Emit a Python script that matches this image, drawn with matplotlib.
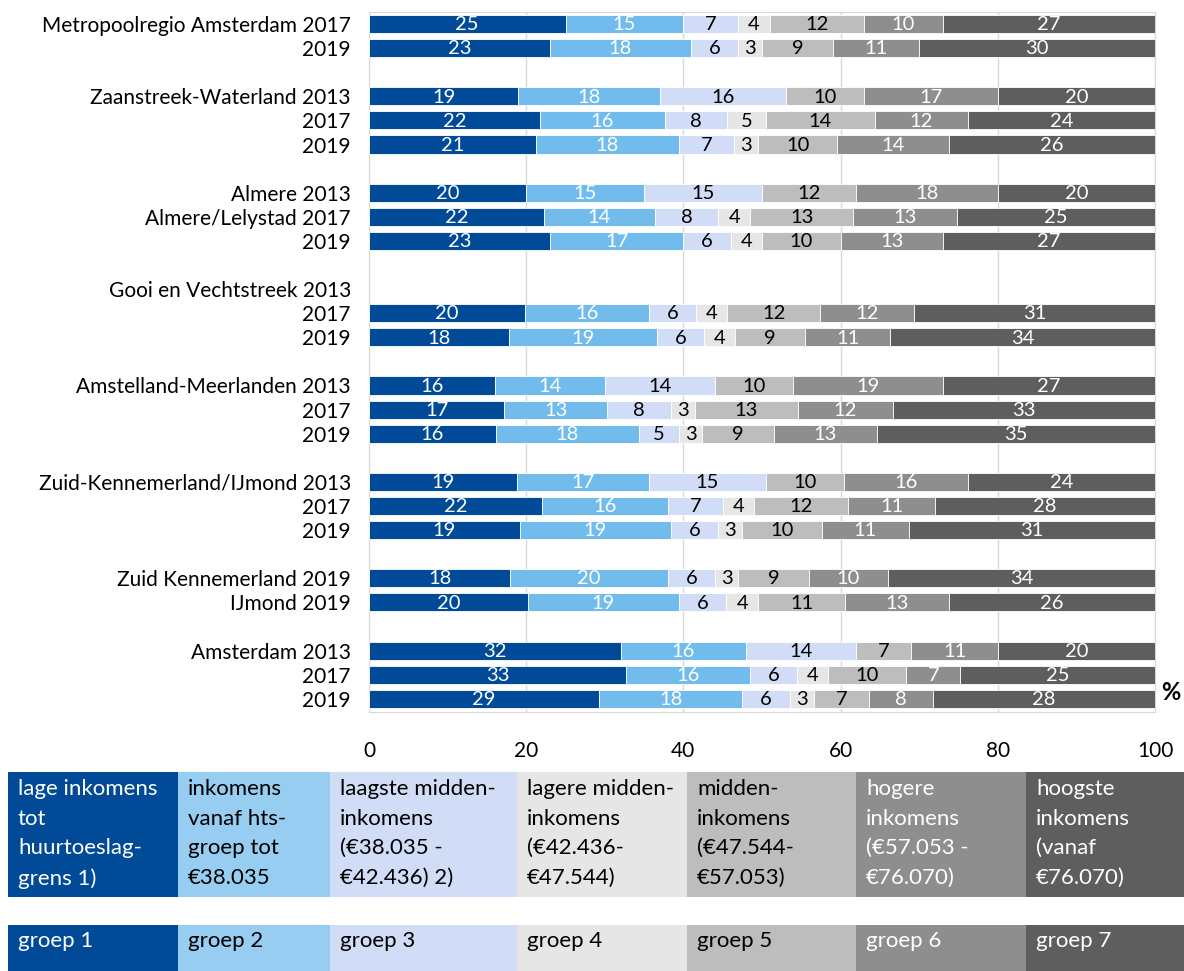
import numpy as np
import matplotlib
matplotlib.use("Agg")
import matplotlib.pyplot as plt
from matplotlib.patches import Rectangle

plt.rcParams["font.family"] = ["Lato", "DejaVu Sans"]

# rows of the chart, None = empty slot between regions
row_labels = [
    "Metropoolregio Amsterdam 2017", "2019", None,
    "Zaanstreek-Waterland 2013", "2017", "2019", None,
    "Almere 2013", "Almere/Lelystad 2017", "2019", None,
    "Gooi en Vechtstreek 2013", "2017", "2019", None,
    "Amstelland-Meerlanden 2013", "2017", "2019", None,
    "Zuid-Kennemerland/IJmond 2013", "2017", "2019", None,
    "Zuid Kennemerland 2019", "IJmond 2019", None,
    "Amsterdam 2013", "2017", "2019",
]

# percentages per group (groep 1 .. groep 7)
row_values = [
    [25, 15, 7, 4, 12, 10, 27],
    [23, 18, 6, 3, 9, 11, 30],
    None,
    [19, 18, 16, 0, 10, 17, 20],
    [22, 16, 8, 5, 14, 12, 24],
    [21, 18, 7, 3, 10, 14, 26],
    None,
    [20, 15, 15, 0, 12, 18, 20],
    [22, 14, 8, 4, 13, 13, 25],
    [23, 17, 6, 4, 10, 13, 27],
    None,
    None,
    [20, 16, 6, 4, 12, 12, 31],
    [18, 19, 6, 4, 9, 11, 34],
    None,
    [16, 14, 14, 0, 10, 19, 27],
    [17, 13, 8, 3, 13, 12, 33],
    [16, 18, 5, 3, 9, 13, 35],
    None,
    [19, 17, 15, 0, 10, 16, 24],
    [22, 16, 7, 4, 12, 11, 28],
    [19, 19, 6, 3, 10, 11, 31],
    None,
    [18, 20, 6, 3, 9, 10, 34],
    [20, 19, 6, 4, 11, 13, 26],
    None,
    [32, 16, 14, 0, 7, 11, 20],
    [33, 16, 6, 4, 10, 7, 25],
    [29, 18, 6, 3, 7, 8, 28],
]

bar_colors = ["#004A98", "#71BCEC", "#D1DDF6", "#E6E6E6", "#BDBDBD", "#8E8E8E", "#5E5E5E"]
legend_colors = ["#004A98", "#97CDF1", "#D1DDF6", "#E6E6E6", "#BDBDBD", "#8E8E8E", "#5E5E5E"]
text_colors = ["white", "white", "black", "black", "black", "white", "white"]

legend_texts = [
    "lage inkomens\ntot\nhuurtoeslag-\ngrens 1)",
    "inkomens\nvanaf hts-\ngroep tot\n€38.035",
    "laagste midden-\ninkomens\n(€38.035 -\n€42.436) 2)",
    "lagere midden-\ninkomens\n(€42.436-\n€47.544)",
    "midden-\ninkomens\n(€47.544-\n€57.053)",
    "hogere\ninkomens\n(€57.053 -\n€76.070)",
    "hoogste\ninkomens\n(vanaf\n€76.070)",
]
group_names = ["groep 1", "groep 2", "groep 3", "groep 4", "groep 5", "groep 6", "groep 7"]

W, H = 1184, 971
fig = plt.figure(figsize=(W / 100, H / 100), dpi=100)

ax = fig.add_axes([369 / W, 1 - 712 / H, (1155 - 369) / W, (712 - 12) / H])
fs = 15
fs_bar = 14.5
fs_leg = 16

for i, vals in enumerate(row_values):
    if vals is None:
        continue
    vals = np.array(vals, dtype=float)
    widths = vals / vals.sum() * 100
    left = 0.0
    for g in range(7):
        if vals[g] > 0:
            ax.barh(i, widths[g], left=left, height=0.75, color=bar_colors[g],
                    edgecolor="white", linewidth=0.6, zorder=3)
            ax.text(left + widths[g] / 2, i + 0.03, "%d" % vals[g], ha="center", va="center",
                    color=text_colors[g], fontsize=fs_bar, zorder=4)
        left += widths[g]

ax.set_xlim(0, 100)
ax.set_ylim(len(row_labels) - 0.45, -0.5)
ax.set_xticks([0, 20, 40, 60, 80, 100])
ax.tick_params(axis="x", length=0, pad=21, labelsize=fs)
ticks = [i for i, l in enumerate(row_labels) if l is not None]
ax.set_yticks(ticks)
ax.set_yticklabels([row_labels[i] for i in ticks], fontsize=fs)
ax.tick_params(axis="y", length=0, pad=13)
ax.grid(axis="x", color="#D9D9D9", linewidth=1, zorder=0)
for s in ax.spines.values():
    s.set_color("#D9D9D9")
ax.text(1.008, (712 - 693) / 700, "%", transform=ax.transAxes, fontsize=17,
        fontweight="bold", va="center", ha="left")

# legend boxes drawn in pixel coordinates
lax = fig.add_axes([0, 0, 1, 1])
lax.set_xlim(0, W)
lax.set_ylim(H, 0)
lax.axis("off")
lax.patch.set_alpha(0)
edges = [8, 178, 330, 517, 687, 856, 1026, 1184]
for g in range(7):
    x0, x1 = edges[g], edges[g + 1]
    lax.add_patch(Rectangle((x0, 772), x1 - x0, 125, color=legend_colors[g], lw=0))
    lax.add_patch(Rectangle((x0, 925), x1 - x0, 50, color=legend_colors[g], lw=0))
    lax.text(x0 + 10, 779, legend_texts[g], ha="left", va="top", fontsize=fs_leg,
             color=text_colors[g] if g != 1 else "black", linespacing=1.6)
    lax.text(x0 + 10, 941, group_names[g], ha="left", va="center", fontsize=fs_leg,
             color=text_colors[g] if g != 1 else "black")

fig.savefig("out.png", dpi=100)
